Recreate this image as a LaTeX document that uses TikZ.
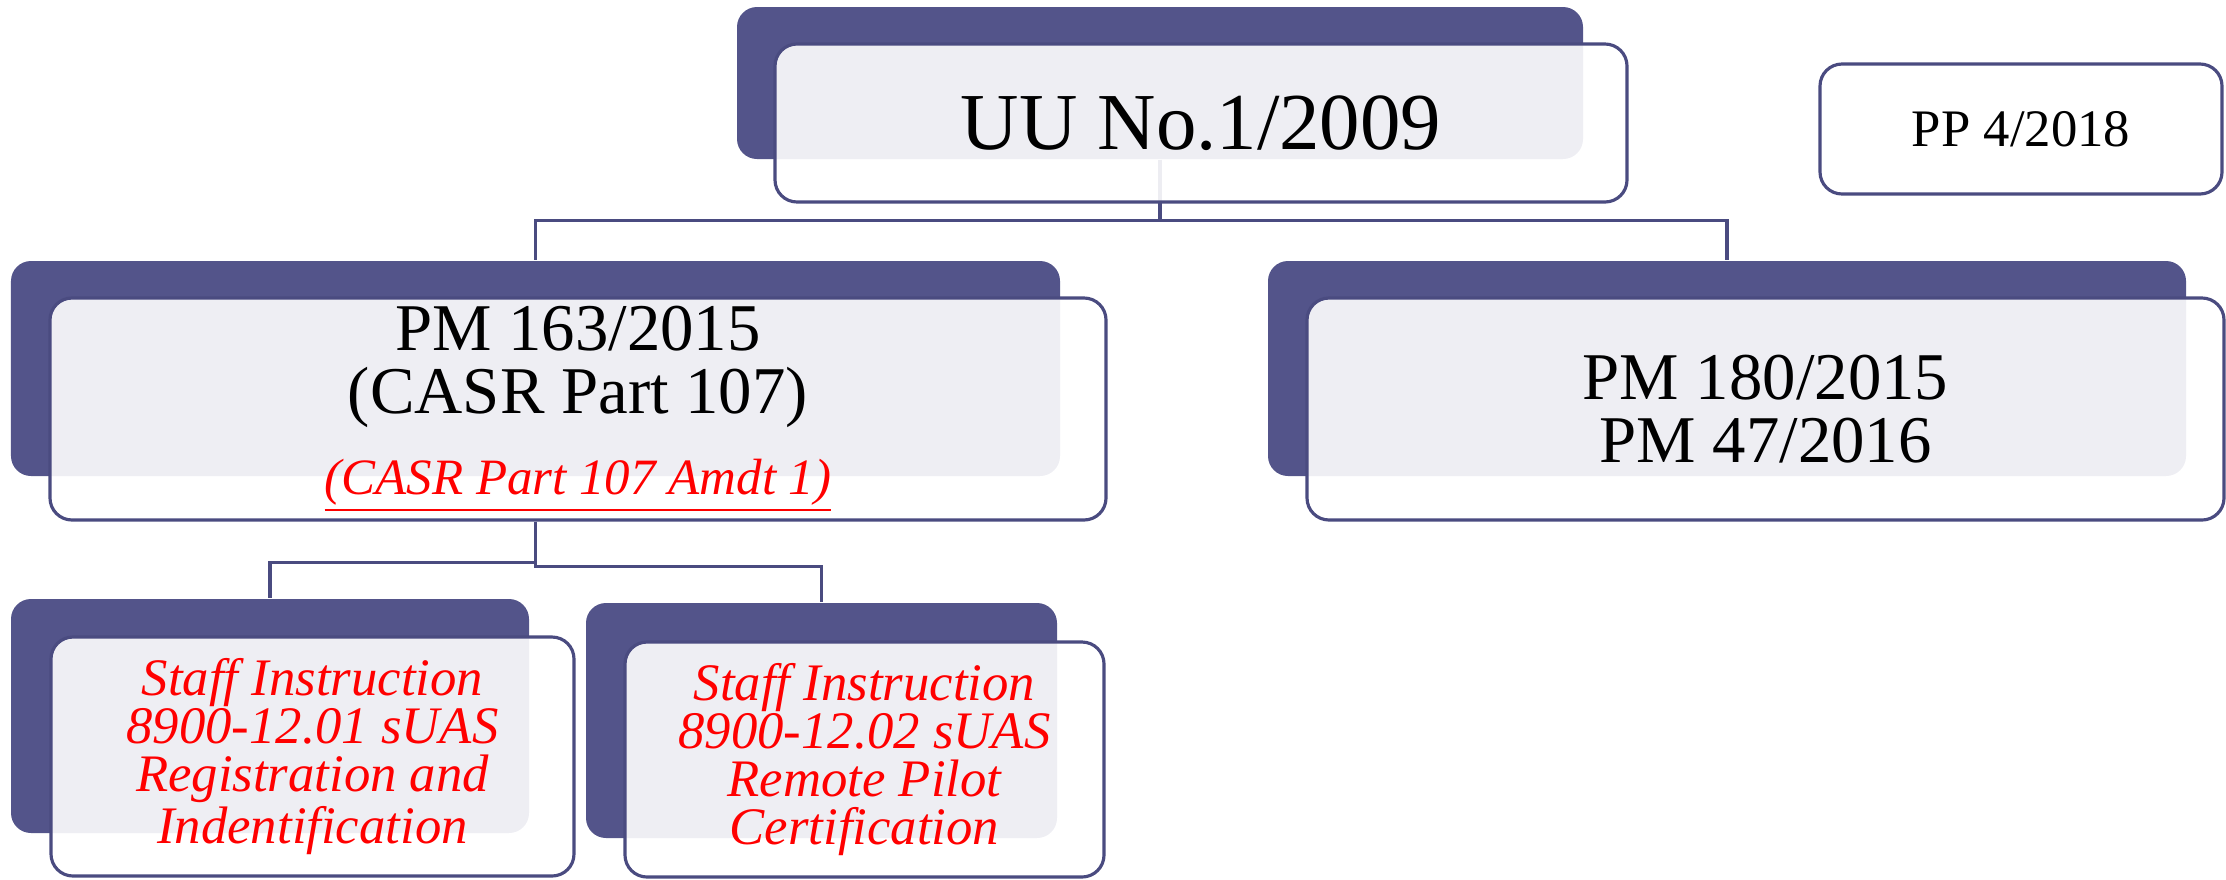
\documentclass[tikz,border=0pt]{standalone}
\usepackage{fontspec}
\setmainfont{Liberation Serif}
\usetikzlibrary{calc}
\definecolor{slate}{HTML}{53548A}
\definecolor{slateline}{HTML}{4A4B80}
\tikzset{
  backbox/.style={rectangle, rounded corners=0.2cm, fill=slate, inner sep=0pt},
  frontbox/.style={rectangle, rounded corners=0.22cm, draw=slateline, line width=0.9pt,
    fill=white, fill opacity=0.9, text opacity=1, align=center, inner sep=0pt},
  link/.style={draw=slateline, line width=1pt}
}
\pgfdeclarelayer{bg}
\pgfsetlayers{bg,main}

\begin{document}
\begin{tikzpicture}
\useasboundingbox (0,0) rectangle (22.26,8.79);
% top level
\node[backbox, minimum width=8.46cm, minimum height=1.52cm] (uuback) at (11.60,7.96) {};
\node[frontbox, minimum width=8.52cm, minimum height=1.58cm, font=\fontsize{23}{28}\selectfont] (uu) at (12.01,7.56) {UU No.1/2009};
\node[frontbox, minimum width=4.02cm, minimum height=1.30cm, font=\fontsize{15}{18}\selectfont] (pp) at (20.21,7.50) {PP 4/2018};
% second level
\node[backbox, minimum width=10.49cm, minimum height=2.15cm] (pm163back) at (5.355,5.105) {};
\node[frontbox, minimum width=10.56cm, minimum height=2.22cm, font=\fontsize{19}{18}\selectfont] (pm163) at (5.78,4.70)
  {PM 163/2015\\(CASR Part 107)\\[5pt]{\color{red}\fontsize{14.5}{18}\selectfont\itshape\underline{(CASR Part 107 Amdt 1)}}};
\node[backbox, minimum width=9.18cm, minimum height=2.15cm] (pm180back) at (17.27,5.105) {};
\node[frontbox, minimum width=9.17cm, minimum height=2.22cm, font=\fontsize{19}{18}\selectfont] (pm180) at (17.655,4.70)
  {PM 180/2015\\PM 47/2016};
% third level
\node[backbox, minimum width=5.18cm, minimum height=2.34cm] (si01back) at (2.70,1.63) {};
\node[frontbox, minimum width=5.23cm, minimum height=2.39cm, text=red, font=\fontsize{15}{13.7}\selectfont\itshape] (si01) at (3.125,1.225)
  {Staff Instruction\\8900-12.01 sUAS\\Registration and\\Indentification};
\node[backbox, minimum width=4.71cm, minimum height=2.35cm] (si02back) at (8.215,1.585) {};
\node[frontbox, minimum width=4.79cm, minimum height=2.35cm, text=red, font=\fontsize{15}{13.7}\selectfont\itshape] (si02) at (8.645,1.195)
  {Staff Instruction\\8900-12.02 sUAS\\Remote Pilot\\Certification};
% connectors
\begin{pgfonlayer}{bg}
\draw[link] (uuback.south) -- ++(0,-0.61) -| (pm163back.north);
\draw[link] (uuback.south) -- ++(0,-0.61) -| (pm180back.north);
\coordinate (split) at (pm163back.south |- pm163.south);
\draw[link] (split) -- ++(0,-0.41) -| (si01back.north);
\draw[link] (split) -- ++(0,-0.45) -| (si02back.north);
\end{pgfonlayer}
\end{tikzpicture}
\end{document}
